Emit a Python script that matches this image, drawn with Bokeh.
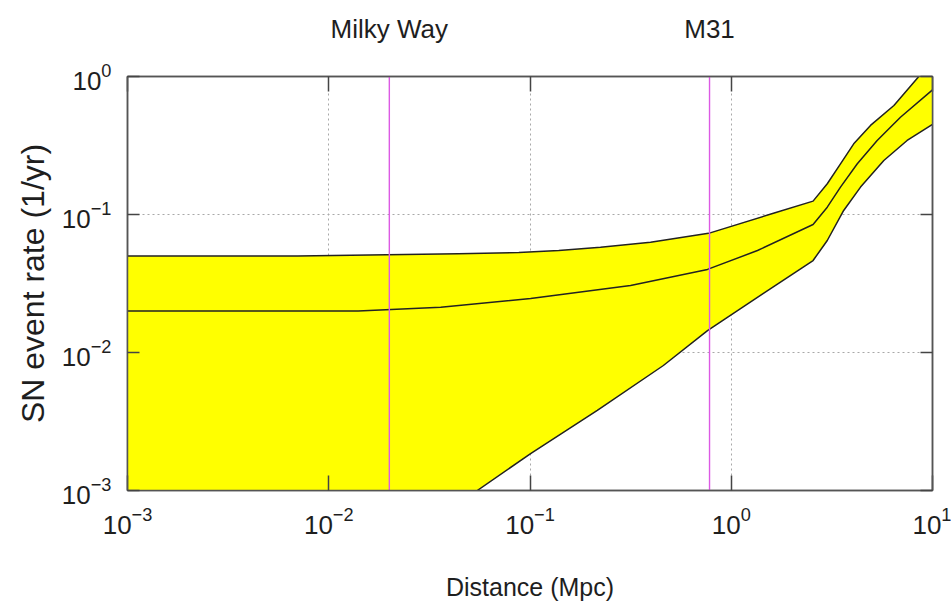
from bokeh.plotting import figure
from bokeh.models import LogAxis, FixedTicker, LogTickFormatter
from bokeh.embed import file_html
from bokeh.resources import INLINE

# Supernova event rate versus distance: band of estimates with a central value
upper_dist = [0.001, 0.007, 0.044, 0.088, 0.139, 0.224, 0.397, 0.771, 1.62, 2.55,
              3.00, 3.49, 4.06, 4.92, 6.43, 8.55, 10.0]
upper_rate = [0.050, 0.050, 0.052, 0.053, 0.0548, 0.058, 0.063, 0.073, 0.102, 0.125,
              0.167, 0.233, 0.325, 0.442, 0.616, 1.0, 1.3]

mid_dist = [0.001, 0.014, 0.036, 0.1007, 0.316, 0.762, 1.35, 2.55,
            3.00, 3.49, 4.23, 5.31, 6.93, 10.0]
mid_rate = [0.020, 0.020, 0.0213, 0.0246, 0.0306, 0.040, 0.0548, 0.0847,
            0.113, 0.158, 0.233, 0.344, 0.507, 0.80]

lower_dist = [0.0547, 0.1007, 0.216, 0.460, 0.762, 1.445, 2.55,
              3.00, 3.62, 4.39, 5.73, 7.48, 10.0]
lower_rate = [0.001, 0.00185, 0.0038, 0.00805, 0.0144, 0.0268, 0.0464,
              0.0648, 0.107, 0.158, 0.246, 0.344, 0.45]

# Reference galaxies (distance in Mpc)
galaxy_names = ["Milky Way", "M31"]
galaxy_dist = [0.02, 0.78]

x_ticks = [1e-3, 1e-2, 1e-1, 1e0, 1e1]
y_ticks = [1e-3, 1e-2, 1e-1, 1e0]
x_min, x_max = 1e-3, 1e1
y_min, y_max = 1e-3, 1e0

FONT = "Liberation Sans"
TEXT = "#1e1e1e"
FRAME = "#555555"

p = figure(width=951, height=605, x_axis_type="log", y_axis_type="log",
           x_range=(x_min, x_max), y_range=(y_min, y_max),
           output_backend="svg", toolbar_location=None,
           min_border_left=127, min_border_right=19,
           min_border_top=76, min_border_bottom=115)
p.background_fill_color = "white"
p.border_fill_color = "white"
p.outline_line_color = FRAME
p.outline_line_width = 1.5

# Shaded band between the lower and upper estimates
band_x = upper_dist + lower_dist[::-1] + [x_min]
band_y = upper_rate + lower_rate[::-1] + [y_min]
p.patch(band_x, band_y, fill_color="#ffff00", line_color=None)

for xs, ys in [(upper_dist, upper_rate), (mid_dist, mid_rate), (lower_dist, lower_rate)]:
    p.line(xs, ys, line_color="#222222", line_width=1.5)

# Vertical markers for the galaxies
for d in galaxy_dist:
    p.line([d, d], [y_min, y_max], line_color="#dc5ae4", line_width=1.4)


def style_axis(ax, ticks, tick_len, show_labels, standoff=16):
    ax.ticker = FixedTicker(ticks=ticks, minor_ticks=[])
    ax.axis_line_color = FRAME
    ax.axis_line_width = 1.5
    ax.major_tick_line_color = "#444444"
    ax.major_tick_line_width = 1.5
    ax.major_tick_in = tick_len
    ax.major_tick_out = 0
    ax.minor_tick_line_color = None
    ax.formatter = LogTickFormatter()
    if show_labels:
        ax.major_label_text_font = FONT
        ax.major_label_text_font_size = "26px"
        ax.major_label_text_color = TEXT
        ax.major_label_standoff = standoff
    else:
        ax.major_label_text_font_size = "6px"
        ax.major_label_text_alpha = 0.0
        ax.major_label_standoff = 0


xax = p.xaxis[0]
style_axis(xax, x_ticks, 15, True, standoff=16)
xax.axis_label = "Distance (Mpc)"
xax.axis_label_text_font = FONT
xax.axis_label_text_font_size = "25px"
xax.axis_label_text_font_style = "normal"
xax.axis_label_text_color = TEXT
xax.axis_label_standoff = 36

yax = p.yaxis[0]
style_axis(yax, y_ticks, 12, True, standoff=16)
yax.axis_label = "SN event rate (1/yr)"
yax.axis_label_text_font = FONT
yax.axis_label_text_font_size = "32px"
yax.axis_label_text_font_style = "normal"
yax.axis_label_text_color = TEXT
yax.axis_label_standoff = 8

# Mirrored decade ticks on the top and right edges
top_axis = LogAxis()
style_axis(top_axis, x_ticks, 15, False)
p.add_layout(top_axis, "above")
right_axis = LogAxis()
style_axis(right_axis, y_ticks, 12, False)
p.add_layout(right_axis, "right")

# Galaxy names above the frame, one label over each marker
name_axis = LogAxis(ticker=FixedTicker(ticks=galaxy_dist, minor_ticks=[]),
                    major_label_overrides=dict(zip(galaxy_dist, galaxy_names)))
name_axis.axis_line_color = None
name_axis.major_tick_line_color = None
name_axis.minor_tick_line_color = None
name_axis.major_tick_in = 0
name_axis.major_tick_out = 0
name_axis.major_label_text_font = FONT
name_axis.major_label_text_font_size = "26px"
name_axis.major_label_text_color = TEXT
name_axis.major_label_standoff = 33
p.add_layout(name_axis, "above")

# Dotted decade grid
for g, ticks in [(p.xgrid[0], x_ticks), (p.ygrid[0], y_ticks)]:
    g.ticker = FixedTicker(ticks=ticks, minor_ticks=[])
    g.grid_line_color = "#a8a8a8"
    g.grid_line_dash = "2 3"
    g.grid_line_width = 1

open("out.html", "w").write(file_html(p, INLINE))
